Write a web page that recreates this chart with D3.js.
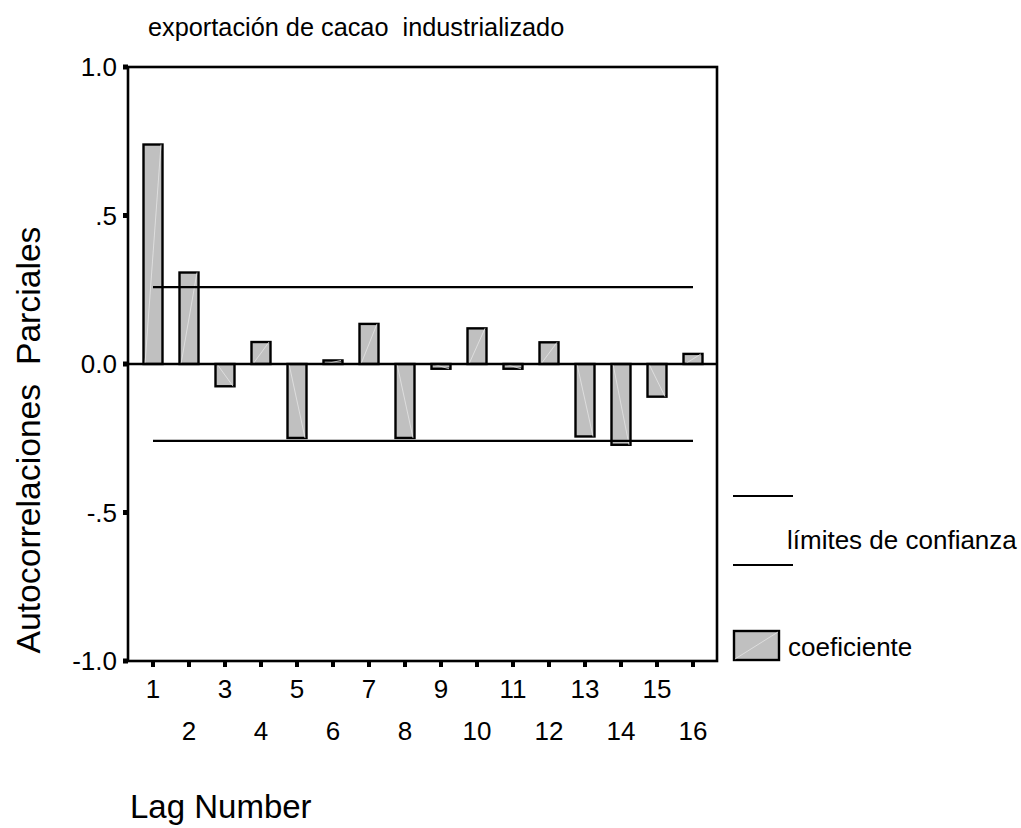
<!DOCTYPE html>
<html lang="es">
<head>
<meta charset="utf-8">
<title>Autocorrelaciones Parciales</title>
<script src="https://d3js.org/d3.v7.min.js"></script>
<style>
  body { margin: 0; background: #fff; }
  text { font-family: "Liberation Sans", Arial, sans-serif; fill: #000; white-space: pre; }
</style>
</head>
<body>
<div id="chart"></div>
<script>
// datos
var lags = [1, 2, 3, 4, 5, 6, 7, 8, 9, 10, 11, 12, 13, 14, 15, 16];
var coef = [0.739, 0.308, -0.075, 0.074, -0.249, 0.012, 0.135, -0.249,
            -0.016, 0.120, -0.016, 0.073, -0.244, -0.272, -0.110, 0.034];
var limites = [0.259, -0.259];
var yTicks = [1.0, 0.5, 0.0, -0.5, -1.0];
var yTickLabels = ["1.0", ".5", "0.0", "-.5", "-1.0"];

var w = 1021, h = 828;
// cuidado: "top" choca con window.top
var pLeft = 128, pRight = 717, pTop = 67, pBottom = 661;

var svg = d3.select("#chart").append("svg")
    .attr("width", w).attr("height", h);

var x = d3.scaleLinear().domain([1, 16]).range([153, 693]);
var y = d3.scaleLinear().domain([-1, 1]).range([pBottom, pTop]);
var barW = 19;

// titulo
svg.append("text")
    .attr("x", 148).attr("y", 36)
    .attr("font-size", 25.3)
    .text("exportación de cacao  industrializado");

// barras
var bars = svg.selectAll("g.bar")
    .data(lags)
    .enter().append("g")
    .attr("class", "bar");

bars.append("rect")
    .attr("x", function(d) { return x(d) - barW / 2; })
    .attr("y", function(d, i) { return Math.min(y(coef[i]), y(0)); })
    .attr("width", barW)
    .attr("height", function(d, i) { return Math.abs(y(coef[i]) - y(0)); })
    .attr("fill", "#c0c0c0")
    .attr("stroke", "#000")
    .attr("stroke-width", 2.4);

// la diagonal clara que deja el programa original dentro de cada barra
bars.append("line")
    .attr("x1", function(d) { return x(d) - barW / 2 + 1.5; })
    .attr("x2", function(d) { return x(d) + barW / 2 - 1.5; })
    .attr("y1", y(0))
    .attr("y2", function(d, i) { return y(coef[i]); })
    .attr("stroke", "#e4e4e4")
    .attr("stroke-width", 0.8);

// limites de confianza
svg.selectAll("line.lim")
    .data(limites)
    .enter().append("line")
    .attr("class", "lim")
    .attr("x1", x(lags[0])).attr("x2", x(lags[lags.length - 1]))
    .attr("y1", function(d) { return y(d); })
    .attr("y2", function(d) { return y(d); })
    .attr("stroke", "#000").attr("stroke-width", 2.2);

// linea cero
svg.append("line")
    .attr("x1", pLeft).attr("x2", pRight)
    .attr("y1", y(0)).attr("y2", y(0))
    .attr("stroke", "#000").attr("stroke-width", 2.4);

// marco
svg.append("rect")
    .attr("x", pLeft).attr("y", pTop)
    .attr("width", pRight - pLeft).attr("height", pBottom - pTop)
    .attr("fill", "none")
    .attr("stroke", "#000").attr("stroke-width", 2.6);

// eje y: marcas cuadradas y etiquetas
svg.selectAll("rect.ytick")
    .data(yTicks)
    .enter().append("rect")
    .attr("class", "ytick")
    .attr("x", pLeft - 5).attr("y", function(d) { return y(d) - 2.5; })
    .attr("width", 5).attr("height", 5)
    .attr("fill", "#000");

svg.selectAll("text.ylab")
    .data(yTicks)
    .enter().append("text")
    .attr("class", "ylab")
    .attr("x", 117)
    .attr("y", function(d) { return y(d); })
    .attr("dy", "0.35em")
    .attr("text-anchor", "end")
    .attr("font-size", 26)
    .text(function(d, i) { return yTickLabels[i]; });

// eje x: marcas y etiquetas alternadas
svg.selectAll("rect.xtick")
    .data(lags)
    .enter().append("rect")
    .attr("class", "xtick")
    .attr("x", function(d) { return x(d) - 2; })
    .attr("y", pBottom)
    .attr("width", 4).attr("height", 6)
    .attr("fill", "#000");

svg.selectAll("text.xlab")
    .data(lags)
    .enter().append("text")
    .attr("class", "xlab")
    .attr("x", function(d) { return x(d); })
    .attr("y", function(d) { return d % 2 === 1 ? 698 : 740; })
    .attr("text-anchor", "middle")
    .attr("font-size", 26)
    .text(function(d) { return d; });

// titulos de ejes
svg.append("text")
    .attr("transform", "translate(40,440) rotate(-90)")
    .attr("text-anchor", "middle")
    .attr("font-size", 33.7)
    .text("Autocorrelaciones  Parciales");

svg.append("text")
    .attr("x", 130).attr("y", 818)
    .attr("font-size", 33)
    .text("Lag Number");

// leyenda
var lg = svg.append("g");
lg.append("line").attr("x1", 733).attr("x2", 793).attr("y1", 496).attr("y2", 496)
    .attr("stroke", "#000").attr("stroke-width", 2.2);
lg.append("line").attr("x1", 733).attr("x2", 793).attr("y1", 565).attr("y2", 565)
    .attr("stroke", "#000").attr("stroke-width", 2.2);
lg.append("text").attr("x", 787).attr("y", 549)
    .attr("font-size", 26).text("límites de confianza");
lg.append("rect").attr("x", 734).attr("y", 631).attr("width", 45).attr("height", 29)
    .attr("fill", "#c0c0c0").attr("stroke", "#000").attr("stroke-width", 2.4);
lg.append("line").attr("x1", 735).attr("x2", 778).attr("y1", 659).attr("y2", 632)
    .attr("stroke", "#e4e4e4").attr("stroke-width", 0.8);
lg.append("text").attr("x", 788).attr("y", 656)
    .attr("font-size", 26).text("coeficiente");
</script>
</body>
</html>
